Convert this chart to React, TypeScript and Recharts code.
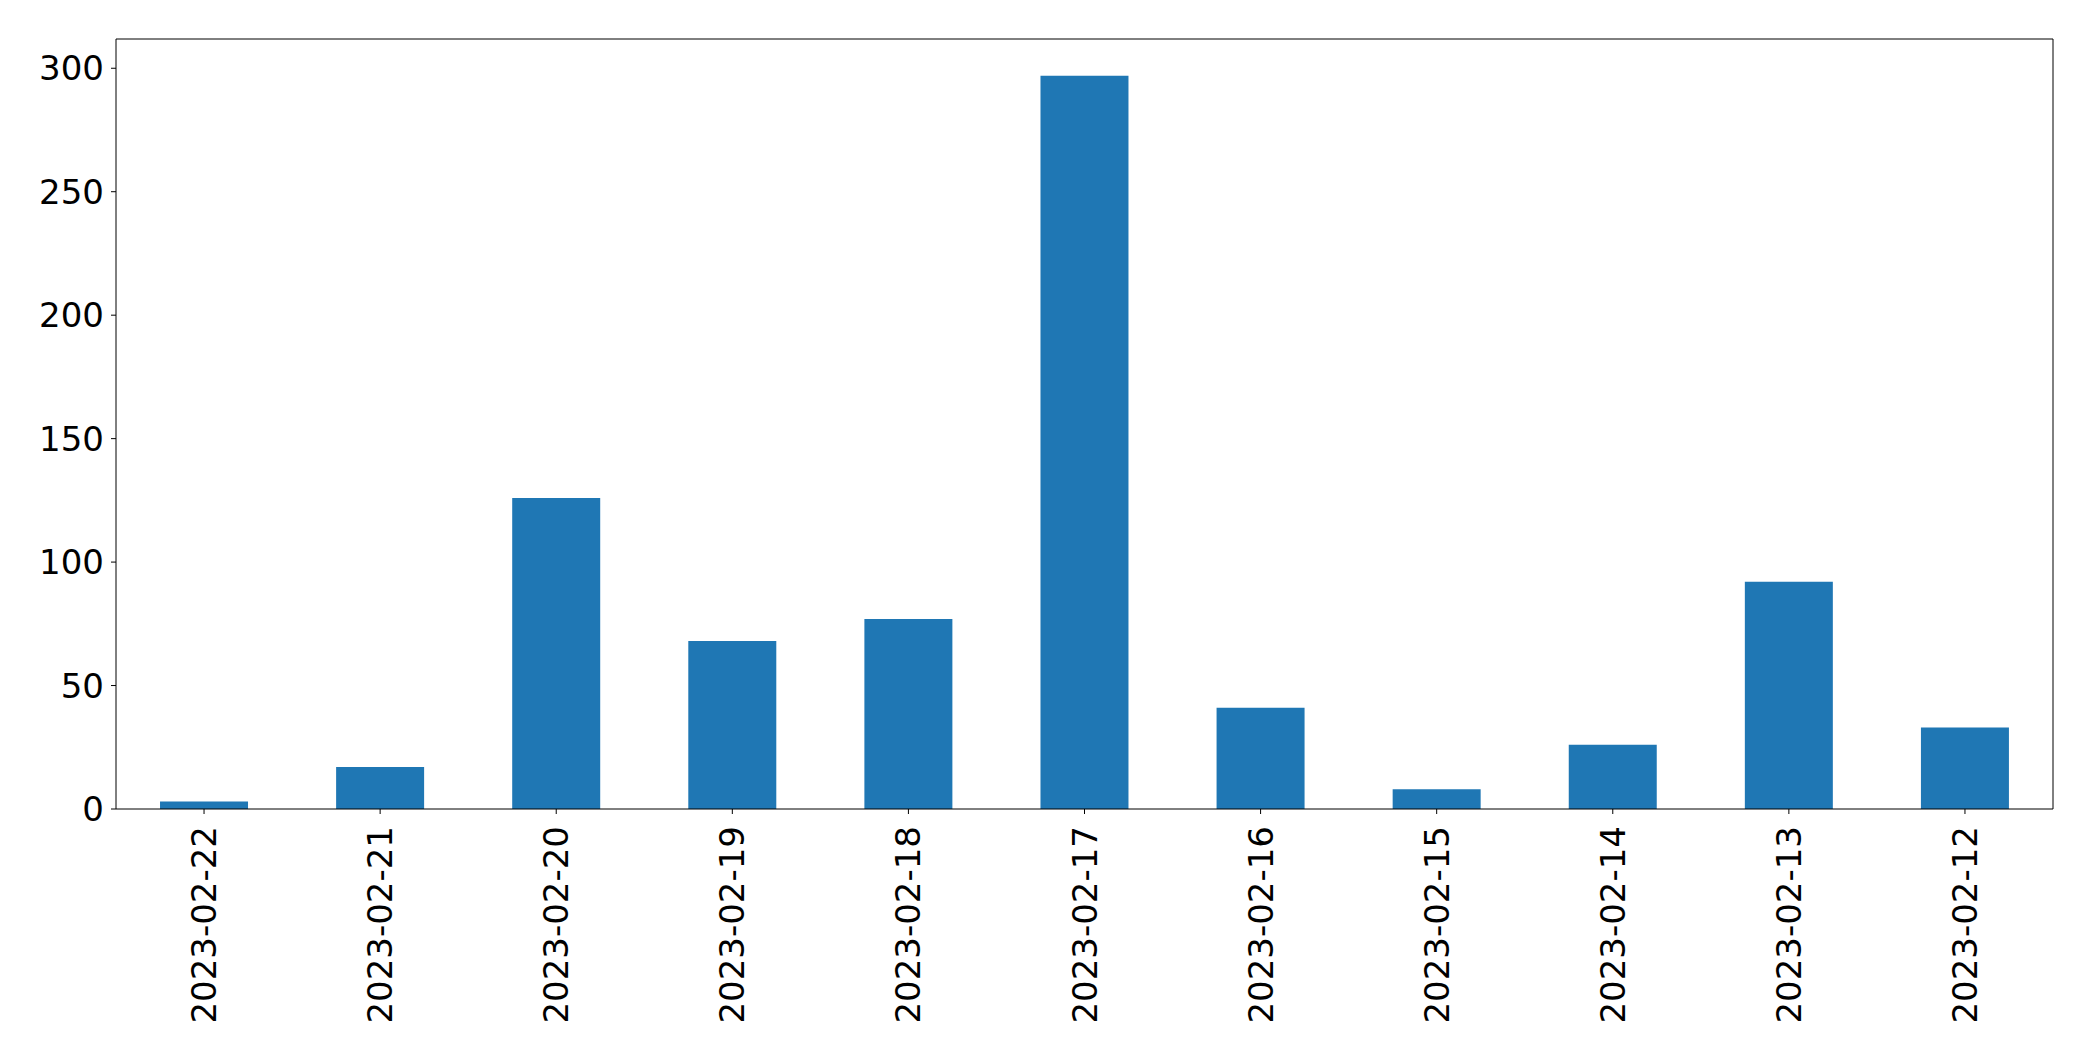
import { BarChart, Bar, XAxis, YAxis, ReferenceLine } from 'recharts';

const dates = [
  '2023-02-22',
  '2023-02-21',
  '2023-02-20',
  '2023-02-19',
  '2023-02-18',
  '2023-02-17',
  '2023-02-16',
  '2023-02-15',
  '2023-02-14',
  '2023-02-13',
  '2023-02-12',
];
const counts = [3, 17, 126, 68, 77, 297, 41, 8, 26, 92, 33];
const yTicks = [0, 50, 100, 150, 200, 250, 300];
const yMax = 311.85;

const data = dates.map((date, i) => ({ date, count: counts[i] }));

const FONT = '"DejaVu Sans", sans-serif';

// rotated date labels under the x axis
function DateTick(props: any) {
  const { x, y, payload } = props;
  return (
    <text
      x={x}
      y={y}
      transform={`rotate(-90, ${x}, ${y})`}
      textAnchor="end"
      dominantBaseline="central"
      fontFamily={FONT}
      fontSize={34}
      fill="#000"
    >
      {payload.value}
    </text>
  );
}

export default function App() {
  return (
    <div style={{ position: 'absolute', left: 0, top: 0, background: '#fff' }}>
      <BarChart
        width={2093}
        height={1061}
        data={data}
        margin={{ top: 39, right: 40, left: 16, bottom: 12 }}
        barCategoryGap="25%"
      >
        <XAxis
          dataKey="date"
          stroke="#000"
          tickSize={5}
          tickMargin={12}
          height={240}
          interval={0}
          tick={<DateTick />}
        />
        <YAxis
          domain={[0, yMax]}
          ticks={yTicks}
          allowDataOverflow
          stroke="#000"
          tickSize={5}
          tickMargin={7}
          width={100}
          tick={{ fill: '#000', fontSize: 34, fontFamily: FONT }}
        />
        <Bar dataKey="count" fill="#1f77b4" isAnimationActive={false} />
        {/* top and right spines */}
        <ReferenceLine y={yMax} stroke="#000" strokeWidth={1} />
        <ReferenceLine
          x={dates[dates.length - 1]}
          position="end"
          stroke="#000"
          strokeWidth={1}
        />
      </BarChart>
    </div>
  );
}
